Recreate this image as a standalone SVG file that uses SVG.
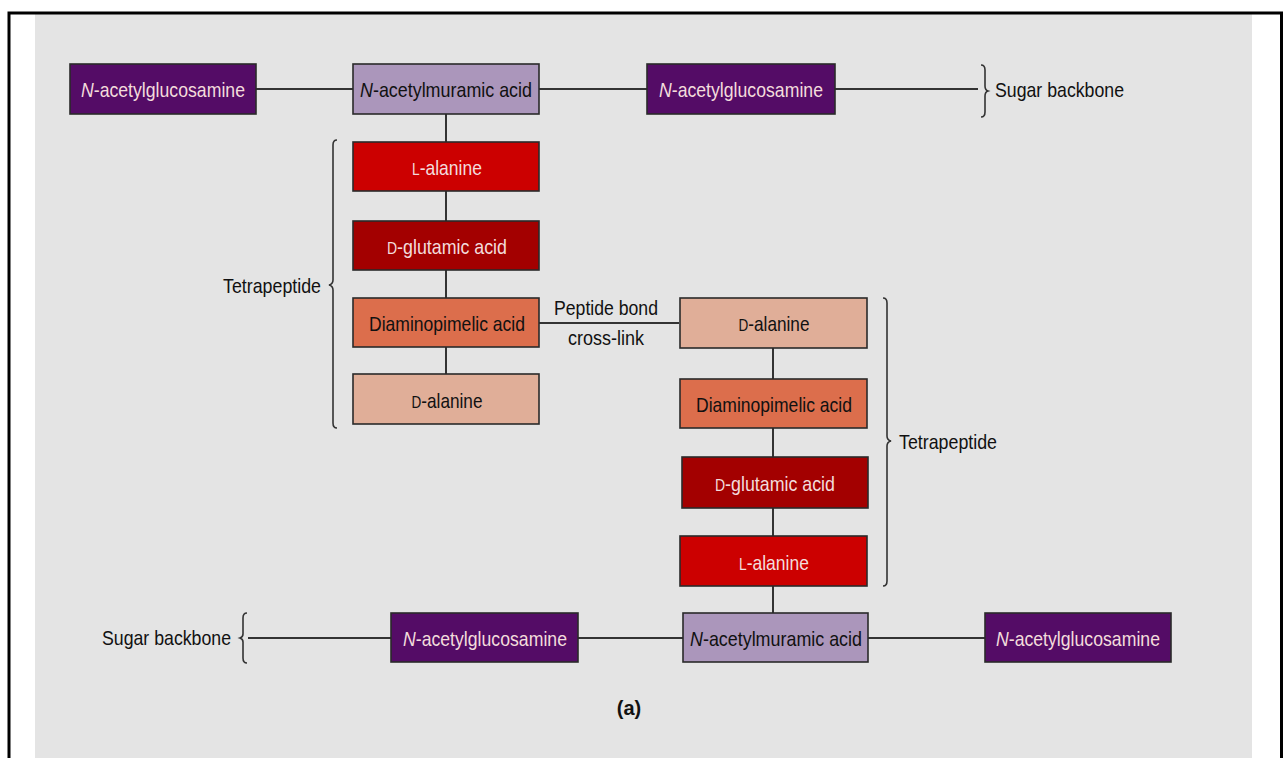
<svg xmlns="http://www.w3.org/2000/svg" width="1283" height="758" viewBox="0 0 1283 758">
<style>
.box{stroke:#2a2a2a;stroke-width:1.6}
.nag{fill:#540c66}
.nam{fill:#ab96bb}
.lala{fill:#cc0000}
.dglu{fill:#a30000}
.dap{fill:#dc6e4c}
.dala{fill:#e0ae98}
.t{font-family:"Liberation Sans",Arial,sans-serif;font-size:21px;text-anchor:middle}
.lt{fill:#f3dcdc}
.dk{fill:#111}
.lbl{font-family:"Liberation Sans",Arial,sans-serif;font-size:21px;fill:#111}
.sc{font-size:16.5px}
.ln{stroke:#333;stroke-width:2;fill:none}
.br{stroke:#333;stroke-width:1.6;fill:none}
</style>
<rect x="0" y="0" width="1283" height="758" fill="#ffffff"/>
<rect x="35" y="14" width="1217" height="744" fill="#e4e4e4"/>
<path d="M9 758 V13 H1281.5 V758" fill="none" stroke="#000" stroke-width="3"/>

<g id="connectors">
<path class="ln" d="M256 89 H353"/>
<path class="ln" d="M539 89 H647"/>
<path class="ln" d="M835 89 H978"/>
<path class="ln" d="M446 114 V142"/>
<path class="ln" d="M446 191 V221"/>
<path class="ln" d="M446 270 V298"/>
<path class="ln" d="M446 347 V374"/>
<path class="ln" d="M539 323 H679"/>
<path class="ln" d="M773 348 V379"/>
<path class="ln" d="M773 428 V457"/>
<path class="ln" d="M773 508 V536"/>
<path class="ln" d="M773 586 V613"/>
<path class="ln" d="M248 638 H391"/>
<path class="ln" d="M578 638 H683"/>
<path class="ln" d="M868 638 H985"/>
</g>

<g id="nag-top-left"><rect class="box nag" x="70" y="64" width="186" height="50"/><text class="t lt" x="163" y="97" textLength="164" lengthAdjust="spacingAndGlyphs"><tspan font-style="italic">N</tspan>-acetylglucosamine</text></g>
<g id="nam-top"><rect class="box nam" x="353" y="64" width="186" height="50"/><text class="t dk" x="446" y="97" textLength="172" lengthAdjust="spacingAndGlyphs"><tspan font-style="italic">N</tspan>-acetylmuramic acid</text></g>
<g id="nag-top-right"><rect class="box nag" x="647" y="64" width="188" height="50"/><text class="t lt" x="741" y="97" textLength="164" lengthAdjust="spacingAndGlyphs"><tspan font-style="italic">N</tspan>-acetylglucosamine</text></g>
<g id="brace-top"><path class="br" d="M981 65 Q985 65 985 70 V86 Q985 90 988 91 Q985 92 985 96 V112 Q985 117 981 117"/><text class="lbl" x="995" y="97" textLength="129" lengthAdjust="spacingAndGlyphs">Sugar backbone</text></g>

<g id="l-ala-left"><rect class="box lala" x="353" y="142" width="186" height="49"/><text class="t lt" x="447" y="175" textLength="70" lengthAdjust="spacingAndGlyphs"><tspan class="sc">L</tspan>-alanine</text></g>
<g id="d-glu-left"><rect class="box dglu" x="353" y="221" width="186" height="49"/><text class="t lt" x="447" y="254" textLength="120" lengthAdjust="spacingAndGlyphs"><tspan class="sc">D</tspan>-glutamic acid</text></g>
<g id="dap-left"><rect class="box dap" x="353" y="298" width="186" height="49"/><text class="t dk" x="447" y="331" textLength="156" lengthAdjust="spacingAndGlyphs">Diaminopimelic acid</text></g>
<g id="d-ala-left"><rect class="box dala" x="353" y="374" width="186" height="50"/><text class="t dk" x="447" y="408" textLength="71" lengthAdjust="spacingAndGlyphs"><tspan class="sc">D</tspan>-alanine</text></g>
<g id="brace-left"><path class="br" d="M337 140 Q333 140 333 145 V280 Q333 284 329 285 Q333 286 333 290 V423 Q333 428 337 428"/><text class="lbl" x="321" y="293" text-anchor="end" textLength="98" lengthAdjust="spacingAndGlyphs">Tetrapeptide</text></g>

<g id="crosslink-label"><text class="lbl" x="606" y="315" text-anchor="middle" textLength="104" lengthAdjust="spacingAndGlyphs">Peptide bond</text><text class="lbl" x="606" y="345" text-anchor="middle" textLength="76" lengthAdjust="spacingAndGlyphs">cross-link</text></g>

<g id="d-ala-right"><rect class="box dala" x="680" y="298" width="187" height="50"/><text class="t dk" x="774" y="331" textLength="71" lengthAdjust="spacingAndGlyphs"><tspan class="sc">D</tspan>-alanine</text></g>
<g id="dap-right"><rect class="box dap" x="680" y="379" width="187" height="49"/><text class="t dk" x="774" y="412" textLength="156" lengthAdjust="spacingAndGlyphs">Diaminopimelic acid</text></g>
<g id="d-glu-right"><rect class="box dglu" x="682" y="457" width="186" height="51"/><text class="t lt" x="775" y="491" textLength="120" lengthAdjust="spacingAndGlyphs"><tspan class="sc">D</tspan>-glutamic acid</text></g>
<g id="l-ala-right"><rect class="box lala" x="680" y="536" width="187" height="50"/><text class="t lt" x="774" y="570" textLength="70" lengthAdjust="spacingAndGlyphs"><tspan class="sc">L</tspan>-alanine</text></g>
<g id="brace-right"><path class="br" d="M883 298 Q887 298 887 303 V436 Q887 440 891 441 Q887 442 887 446 V581 Q887 586 883 586"/><text class="lbl" x="899" y="449" textLength="98" lengthAdjust="spacingAndGlyphs">Tetrapeptide</text></g>

<g id="brace-bottom"><text class="lbl" x="231" y="645" text-anchor="end" textLength="129" lengthAdjust="spacingAndGlyphs">Sugar backbone</text><path class="br" d="M247 613 Q243 613 243 618 V634 Q243 637 240 638 Q243 639 243 642 V658 Q243 663 247 663"/></g>
<g id="nag-bottom-left"><rect class="box nag" x="391" y="613" width="187" height="49"/><text class="t lt" x="485" y="646" textLength="164" lengthAdjust="spacingAndGlyphs"><tspan font-style="italic">N</tspan>-acetylglucosamine</text></g>
<g id="nam-bottom"><rect class="box nam" x="683" y="613" width="185" height="49"/><text class="t dk" x="776" y="646" textLength="172" lengthAdjust="spacingAndGlyphs"><tspan font-style="italic">N</tspan>-acetylmuramic acid</text></g>
<g id="nag-bottom-right"><rect class="box nag" x="985" y="613" width="186" height="49"/><text class="t lt" x="1078" y="646" textLength="164" lengthAdjust="spacingAndGlyphs"><tspan font-style="italic">N</tspan>-acetylglucosamine</text></g>

<text x="629" y="715" font-family="Liberation Sans, Arial, sans-serif" font-size="20" font-weight="bold" text-anchor="middle" fill="#111">(a)</text>
</svg>
